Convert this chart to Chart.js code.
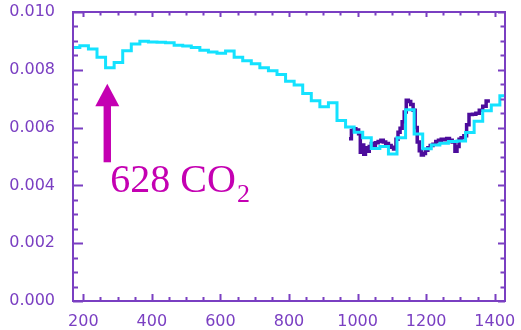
<!DOCTYPE html>
<html>
<head>
<meta charset="utf-8">
<script src="https://cdn.jsdelivr.net/npm/chart.js@4.4.1/dist/chart.umd.min.js"></script>
<style>
  html, body { margin: 0; padding: 0; background: #fff; }
  #wrap { width: 521px; height: 330px; }
</style>
</head>
<body>
<div id="wrap"><canvas id="chart"></canvas></div>
<script>
// axis ranges and labelled ticks
var xRange = [170, 1430];
var xTickLabels = [200, 400, 600, 800, 1000, 1200, 1400];
var xMinorStep = 50;

var yRange = [0, 0.010];
var yTickLabels = ['0.000', '0.002', '0.004', '0.006', '0.008', '0.010'];
var yMinorStep = 0.0005;

// broad band model, one value per 25-wide bin starting at 165
var broadBinStart = 165;
var broadBinWidth = 25;
var broadValues = [
    0.00877, 0.00883, 0.00872, 0.00843, 0.00807, 0.00825, 0.00866, 0.00889,
    0.00899, 0.00896, 0.00895, 0.00894, 0.00885, 0.00882, 0.00877, 0.00868,
    0.00862, 0.00857, 0.00865, 0.00843, 0.00831, 0.00821, 0.00807, 0.00797,
    0.00784, 0.00760, 0.00747, 0.00718, 0.00693, 0.00672, 0.00686, 0.00625,
    0.00602, 0.00584, 0.00565, 0.00528, 0.00535, 0.00509, 0.00565, 0.00662,
    0.00578, 0.00527, 0.00540, 0.00546, 0.00552, 0.00554, 0.00583, 0.00622,
    0.00658, 0.00678, 0.00710
];

// measured spectrum: left edge of each step (last entry closes the final step)
var fineX = [
    975, 982, 988, 995, 1003, 1008, 1013, 1018, 1023, 1028, 1034, 1040,
    1046, 1052, 1060, 1068, 1075, 1082, 1090, 1098, 1105, 1112, 1118, 1124,
    1130, 1136, 1142, 1148, 1155, 1162, 1168, 1174, 1180, 1186, 1192, 1198,
    1205, 1212, 1220, 1228, 1236, 1244, 1252, 1260, 1268, 1276, 1284, 1290,
    1296, 1302, 1310, 1318, 1325, 1335, 1345, 1355, 1365, 1375, 1386
];
var fineY = [
    0.00561, 0.00590, 0.00596, 0.00592, 0.00579, 0.00515, 0.00540, 0.00508,
    0.00530, 0.00518, 0.00535, 0.00545, 0.00532, 0.00548, 0.00552, 0.00556,
    0.00550, 0.00545, 0.00538, 0.00532, 0.00526, 0.00560, 0.00584, 0.00598,
    0.00620, 0.00654, 0.00695, 0.00690, 0.00680, 0.00660, 0.00600, 0.00550,
    0.00520, 0.00505, 0.00510, 0.00522, 0.00530, 0.00538, 0.00542, 0.00552,
    0.00556, 0.00560, 0.00558, 0.00562, 0.00556, 0.00550, 0.00518, 0.00535,
    0.00560, 0.00565, 0.00572, 0.00610, 0.00645, 0.00646, 0.00650, 0.00660,
    0.00674, 0.00692
];

// arrow + label marking the 628 band
var markerX = 270;
var markerTail = 0.00480;
var markerHeadBase = 0.00674;
var markerTip = 0.00752;
var markerLabel = '628 CO';
var markerSub = '2';
var markerLabelX = 279;
var markerLabelY = 0.00376;

var axisColor = '#7a3fc2';
var broadColor = '#14e2ff';
var fineColor = '#4c0c9c';
var markColor = '#c400b2';

var broadPoints = broadValues.map(function(v, i) {
    return {x: broadBinStart + i * broadBinWidth, y: v};
});
broadPoints.push({
    x: broadBinStart + broadValues.length * broadBinWidth,
    y: broadValues[broadValues.length - 1]
});

var finePoints = fineY.map(function(v, i) { return {x: fineX[i], y: v}; });
finePoints.push({x: fineX[fineX.length - 1], y: fineY[fineY.length - 1]});

var isMajorY = function(v) {
    return yTickLabels.some(function(l) { return Math.abs(parseFloat(l) - v) < 1e-9; });
};

// inward ticks on all four sides plus the box
var framePlugin = {
    id: 'frame',
    afterDatasetsDraw: function(chart) {
        var ctx = chart.ctx, a = chart.chartArea;
        var xs = chart.scales.x, ys = chart.scales.y;
        ctx.save();
        ctx.strokeStyle = axisColor;
        ctx.lineWidth = 2;
        ctx.strokeRect(a.left, a.top, a.right - a.left, a.bottom - a.top);
        ctx.beginPath();
        xs.ticks.forEach(function(t) {
            var px = Math.round(xs.getPixelForValue(t.value)) + 0.5;
            var major = xTickLabels.indexOf(t.value) >= 0;
            ctx.moveTo(px, a.bottom);
            ctx.lineTo(px, a.bottom - (major ? 7 : 4));
            ctx.moveTo(px, a.top);
            ctx.lineTo(px, a.top + (major ? 5 : 3.5));
        });
        ys.ticks.forEach(function(t) {
            var py = Math.round(ys.getPixelForValue(t.value)) + 0.5;
            var major = isMajorY(t.value);
            ctx.moveTo(a.left, py);
            ctx.lineTo(a.left + (major ? 10 : 5), py);
            ctx.moveTo(a.right, py);
            ctx.lineTo(a.right - (major ? 7 : 4.5), py);
        });
        ctx.stroke();
        ctx.restore();
    },
    afterDraw: function(chart) {
        var ctx = chart.ctx;
        var xs = chart.scales.x, ys = chart.scales.y;
        var cx = xs.getPixelForValue(markerX);
        var tail = ys.getPixelForValue(markerTail);
        var base = ys.getPixelForValue(markerHeadBase);
        var tip = ys.getPixelForValue(markerTip);
        ctx.save();
        ctx.fillStyle = markColor;
        ctx.fillRect(cx - 3.7, base - 1, 7.4, tail - base + 1);
        ctx.beginPath();
        ctx.moveTo(cx, tip);
        ctx.lineTo(cx + 12, base);
        ctx.lineTo(cx - 12, base);
        ctx.closePath();
        ctx.fill();

        var lx = xs.getPixelForValue(markerLabelX);
        var ly = ys.getPixelForValue(markerLabelY);
        ctx.textBaseline = 'alphabetic';
        ctx.textAlign = 'left';
        ctx.font = '40px "Liberation Serif", serif';
        ctx.fillText(markerLabel, lx, ly);
        var w = ctx.measureText(markerLabel).width;
        ctx.font = '26px "Liberation Serif", serif';
        ctx.fillText(markerSub, lx + w + 1, ly + 10);
        ctx.restore();
    }
};

new Chart(document.getElementById('chart'), {
    type: 'line',
    data: {
        datasets: [{
            data: broadPoints,
            borderColor: broadColor,
            borderWidth: 3,
            stepped: true,
            pointRadius: 0,
            fill: false,
            order: 0
        }, {
            data: finePoints,
            borderColor: fineColor,
            borderWidth: 3.5,
            stepped: true,
            pointRadius: 0,
            fill: false,
            order: 1
        }]
    },
    options: {
        responsive: true,
        maintainAspectRatio: false,
        animation: false,
        events: [],
        layout: {padding: {left: 0, right: 16, top: 12, bottom: 0}},
        plugins: {legend: {display: false}, tooltip: {enabled: false}},
        scales: {
            x: {
                type: 'linear',
                min: xRange[0],
                max: xRange[1],
                grid: {display: false},
                border: {display: false},
                afterBuildTicks: function(scale) {
                    var ticks = [];
                    for (var v = Math.ceil(xRange[0] / xMinorStep) * xMinorStep; v <= xRange[1]; v += xMinorStep) {
                        ticks.push({value: v});
                    }
                    scale.ticks = ticks;
                },
                afterFit: function(scale) {
                    scale.height = 29;
                    scale.paddingLeft = 0;
                    scale.paddingRight = 0;
                },
                ticks: {
                    autoSkip: false,
                    maxRotation: 0,
                    padding: 3,
                    color: axisColor,
                    font: {family: '"DejaVu Sans"', size: 16},
                    callback: function(v) {
                        return xTickLabels.indexOf(v) >= 0 ? String(v) : '';
                    }
                }
            },
            y: {
                type: 'linear',
                min: yRange[0],
                max: yRange[1],
                grid: {display: false},
                border: {display: false},
                afterBuildTicks: function(scale) {
                    var ticks = [];
                    var n = Math.round((yRange[1] - yRange[0]) / yMinorStep);
                    for (var i = 0; i <= n; i++) {
                        ticks.push({value: +(yRange[0] + i * yMinorStep).toFixed(5)});
                    }
                    scale.ticks = ticks;
                },
                afterFit: function(scale) {
                    scale.width = 73;
                    scale.paddingTop = 0;
                    scale.paddingBottom = 0;
                },
                ticks: {
                    autoSkip: false,
                    padding: 10,
                    color: axisColor,
                    font: {family: '"DejaVu Sans"', size: 16},
                    callback: function(v) {
                        return isMajorY(v) ? v.toFixed(3) : '';
                    }
                }
            }
        }
    },
    plugins: [framePlugin]
});
</script>
</body>
</html>
